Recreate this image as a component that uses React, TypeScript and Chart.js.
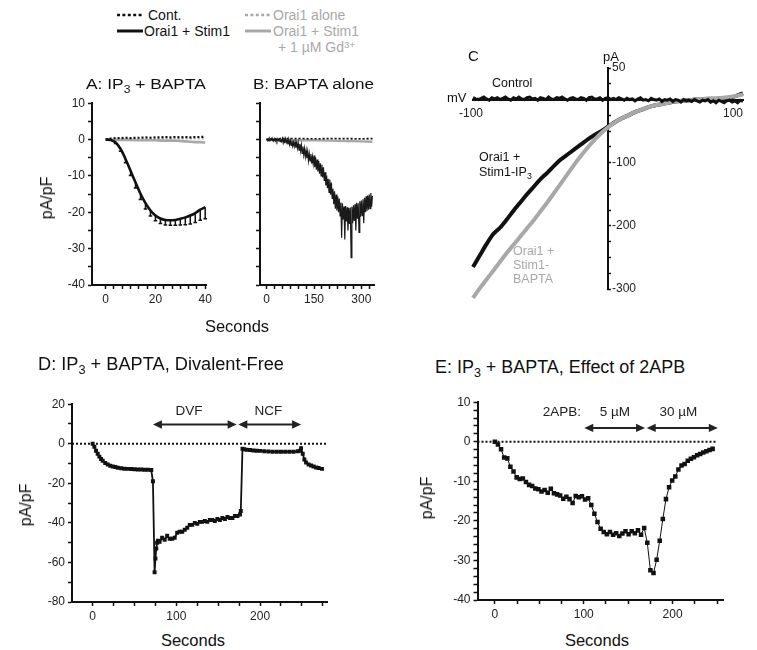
import React, { useEffect, useRef } from 'react';
import { Chart, registerables } from 'chart.js';

Chart.register(...registerables);

const FONT = '"Liberation Sans", Arial, Helvetica, sans-serif';
const BLACK = '#111111';
const GRAY = '#a8a8a8';
const TICK_COLOR = '#222222';

// ---------- Panel A: IP3 + BAPTA (pA/pF vs seconds)
const A_TIME = [0, 2, 4, 6, 8, 10, 12, 14, 16, 18, 20, 22, 24, 26, 28, 30, 32, 34, 36, 38, 40];
const A_STIM = [0, -0.1, -0.8, -2.6, -5.4, -8.6, -11.8, -14.9, -17.5, -19.5, -20.9, -21.7, -22.1, -22.2, -22.1, -21.8, -21.4, -20.9, -20.2, -19.3, -18.6];
const A_SEM = [0, 0, 0.3, 0.6, 1, 1.3, 1.5, 1.6, 1.6, 1.5, 1.4, 1.4, 1.4, 1.4, 1.5, 1.7, 2.0, 2.3, 2.6, 2.9, 3.2];
const A_CONT = [0, 0.3, 0.4, 0.4, 0.5, 0.4, 0.5, 0.5, 0.6, 0.5, 0.6, 0.6, 0.7, 0.6, 0.7, 0.6, 0.7, 0.6, 0.7, 0.7, 0.8];
const A_ALONE = [0, 0.1, 0.1, 0.2, 0.2, 0.2, 0.2, 0.2, 0.3, 0.3, 0.2, 0.3, 0.3, 0.3, 0.3, 0.3, 0.3, 0.3, 0.3, 0.3, 0.3];
const A_GD = [0, 0, -0.1, -0.1, -0.1, -0.1, -0.2, -0.2, -0.2, -0.2, -0.2, -0.3, -0.3, -0.3, -0.3, -0.4, -0.5, -0.6, -0.7, -0.7, -0.8];

// ---------- Panel B: BAPTA alone
const B_TIME = [0, 50, 100, 150, 200, 250, 300, 335];
const B_CONT = [0, 0.3, 0.3, 0.2, 0.3, 0.3, 0.2, 0.3];
const B_ALONE = [0, 0.1, 0.1, 0.1, 0.2, 0.1, 0.1, 0.1];
const B_GD = [0, -0.1, -0.2, -0.2, -0.3, -0.4, -0.5, -0.6];
const B_STIM_DT = 2.5; // seconds between samples
const B_STIM = [
  0.3, -0.3, 0.2, -0.4, 0.3, -0.1, 0.3, -0.3, 0.1, -0.4,
  0.2, -0.4, 0.1, -0.5, 0.2, -0.3, 0.1, -0.6, 0.0, -0.5,
  0.3, -0.9, 0.1, -1.0, 0.2, -0.8, -0.1, -1.3, 0.0, -1.4,
  -0.3, -1.6, -0.2, -1.8, -0.7, -1.9, -0.6, -2.2, -0.9, -2.4,
  -0.8, -2.9, -1.2, -3.1, -1.5, -3.8, -1.9, -4.2, -2.5, -4.7,
  -3.0, -5.1, -3.3, -5.8, -3.9, -5.9, -4.0, -6.6, -4.7, -6.7,
  -4.4, -7.6, -4.9, -8.3, -5.5, -8.8, -5.9, -9.4, -6.5, -10.0,
  -6.9, -10.4, -7.6, -11.4, -9.0, -12.6, -9.9, -13.4, -10.8, -14.5,
  -11.0, -15.2, -11.8, -16.2, -13.5, -17.8, -14.2, -19.0, -15.1, -19.5,
  -15.6, -20.0, -16.2, -21.0, -17.3, -27.0, -17.5, -22.0, -18.4, -27.5,
  -18.3, -22.5, -18.6, -25.0, -18.8, -23.2, -18.7, -32.5, -18.5, -23.0,
  -18.1, -22.4, -17.8, -25.0, -17.4, -21.8, -17.5, -25.5, -17.0, -21.2,
  -16.8, -20.9, -16.4, -23.0, -16.0, -20.0, -15.6, -19.7, -15.4, -19.3,
  -15.1, -19.0, -14.7, -18.5, -15.5,
];

// ---------- Panel C: I-V relations (pA vs mV)
const C_VOLT = [-100, -95, -90, -85, -80, -75, -70, -65, -60, -55, -50, -45, -40, -35, -30, -25, -20, -15, -10, -5, 0, 5, 10, 15, 20, 25, 30, 35, 40, 45, 50, 55, 60, 65, 70, 75, 80, 85, 90, 95, 100];
const C_IP3 = [-265, -247, -229, -213, -203, -190, -176, -163, -150, -138, -126, -116, -105, -95, -87, -79, -71, -63, -56, -50, -43, -36, -30, -25, -20, -16, -12, -9, -7, -5, -3, -2, -1, 0, 0, 1, 1, 2, 3, 6, 10];
const C_BAPTA = [-314, -299, -285, -271, -257, -243, -230, -217, -204, -191, -177, -163, -148, -133, -118, -103, -89, -76, -64, -53, -44, -36, -30, -25, -20, -16, -12, -9, -7, -5, -3, -2, -1, 0, 1, 2, 2, 3, 4, 6, 8];
const C_CTRL_START = -100;
const C_CTRL_DV = 2; // mV between samples
const C_CONTROL = [
  3, 1, 0, 2, 4, 1, -1, 3, 1, 3,
  0, 2, 4, 1, -1, 3, 1, 4, 1, 0,
  3, 4, 1, 2, -1, 3, 2, 0, 4, 1,
  0, 3, 2, 4, 1, -1, 2, 3, 1, 0,
  3, 2, -1, 3, 4, 1, 1, 3, -1, 2,
  3, 0, 2, 0, 3, 1, -1, 2, 0, 1,
  -2, 1, 3, -1, 0, -2, 2, 0, -1, 1,
  -3, 0, -1, 1, -3, 0, -1, -4, 0, -2,
  -1, -3, 0, -2, -4, -1, -2, 0, -4, -2,
  -5, -1, -3, -5, -2, -1, -4, -2, -5, -1,
  -3,
];
const C_Y_LABELS = [50, -100, -200, -300];
const C_X_LABELS = [-100, 100];

// ---------- Panel D: Divalent-free
const D_TIME = [
  0, 2, 4, 6, 8, 10, 12, 15, 18, 21,
  24, 27, 30, 34, 38, 42, 46, 50, 54, 58,
  62, 66, 70, 72, 74, 75, 76, 77, 78, 80,
  83, 86, 89, 92, 95, 98, 101, 104, 107, 110,
  113, 116, 119, 122, 125, 128, 131, 134, 137, 140,
  143, 146, 149, 152, 155, 158, 161, 164, 167, 170,
  173, 176, 177, 179, 181, 184, 188, 192, 196, 200,
  205, 210, 215, 220, 225, 230, 235, 240, 245, 248,
  249, 251, 253, 255, 258, 261, 264, 267, 270, 274,
];
const D_VALUE = [
  0, -1.5, -3.5, -5, -6.5, -7.7, -8.6, -9.7, -10.5, -11.1,
  -11.5, -11.8, -12.1, -12.4, -12.6, -12.7, -12.8, -12.9, -13, -13,
  -13.1, -13.1, -13.3, -19, -65, -58, -53, -50, -49, -49.5,
  -47.5, -48.5, -46.5, -48, -48, -47.5, -45, -44.5, -44.5, -43.5,
  -42.5, -41, -41, -40, -40.5, -39.5, -39.5, -39, -39.5, -38.5,
  -38.5, -39, -38, -38.5, -37.5, -38, -37, -37.5, -37.5, -36.5,
  -36.5, -35.8, -34, -2.5, -2.8, -3, -3.2, -3.4, -3.5, -3.6,
  -3.8, -3.9, -4, -4, -4, -4, -4, -4, -3.8, -3.5,
  -2.3, -5, -8, -9.5, -10.5, -11, -11.5, -12, -12.3, -12.7,
];
const D_ARROWS = [[72, 172], [174, 249]];
const D_ARROW_Y = 9.7;
const D_LABELS = ['DVF', 'NCF'];
const D_LABEL_T = [115, 210];
const D_LABEL_Y = 16.3;

// ---------- Panel E: effect of 2APB
const E_DT = 3.5; // seconds between samples
const E_VALUE = [
  0, -0.7, -1.9, -4.0, -4.2, -6.3, -7.5, -9.0, -9.4, -9.3,
  -10.2, -10.9, -11.2, -11.8, -12.0, -12.6, -12.2, -12.9, -11.9, -13.0,
  -13.3, -13.6, -14.4, -13.9, -14.5, -15.5, -13.7, -14.0, -13.8, -14.6,
  -14.3, -16.0, -18.2, -20.3, -22.0, -22.8, -23.4, -22.8, -23.5, -23.1,
  -23.8, -23.2, -22.6, -23.4, -22.6, -23.1, -22.4, -23.5, -21.8, -25.5,
  -32.5, -33.2, -29.8, -25.0, -19.5, -14.5, -11.5, -9.8, -8.8, -7.0,
  -6.0, -5.6, -4.8, -4.3, -3.9, -3.4, -3.1, -2.7, -2.4, -2.1,
  -1.8,
];
const E_ARROWS = [[100.6, 169], [170.8, 250.8]];
const E_ARROW_Y = 3.5;
const E_LABELS = ['2APB:', '5 µM', '30 µM'];
const E_LABEL_T = [75.5, 135, 206.5];
const E_LABEL_Y = 7.5;

// ---------- helpers
const pts = (xs: number[], ys: number[]) => xs.map((x, i) => ({ x, y: ys[i] }));
const evenPts = (start: number, step: number, ys: number[]) => ys.map((y, i) => ({ x: start + i * step, y }));
const tickList = (a: number, b: number, step: number) => {
  const out: number[] = [];
  for (let v = a; v <= b + 1e-9; v += step) out.push(Math.round(v * 1000) / 1000);
  return out;
};

function axis(o: { min: number; max: number; ticks: number[]; labels: number[] | null; size: number; horizontal: boolean }) {
  return {
    type: 'linear',
    position: o.horizontal ? 'bottom' : 'left',
    min: o.min,
    max: o.max,
    afterBuildTicks: (s: any) => {
      s.ticks = o.ticks.map((v) => ({ value: v }));
    },
    afterFit: (s: any) => {
      if (o.horizontal) s.height = o.size;
      else s.width = o.size;
    },
    grid: { drawOnChartArea: false, drawTicks: true, tickLength: 4, tickWidth: 1.5, tickColor: BLACK },
    border: { display: true, color: BLACK, width: 2 },
    ticks: {
      autoSkip: false,
      maxRotation: 0,
      padding: 3,
      color: TICK_COLOR,
      font: { family: FONT, size: 12 },
      callback: (v: number) => (o.labels && o.labels.some((l) => Math.abs(l - v) < 1e-6) ? String(v) : ''),
    },
  };
}

function baseOptions(padding: any, scales: any) {
  return {
    responsive: false,
    maintainAspectRatio: false,
    animation: false,
    events: [],
    layout: { padding },
    plugins: { legend: { display: false }, tooltip: { enabled: false } },
    elements: { point: { radius: 0 }, line: { tension: 0 } },
    scales,
  };
}

const aErrorBars = {
  id: 'aErrorBars',
  afterDatasetsDraw(chart: any) {
    const { ctx, scales } = chart;
    const x = scales.x;
    const y = scales.y;
    ctx.save();
    ctx.strokeStyle = BLACK;
    ctx.lineWidth = 1.5;
    A_TIME.forEach((t, i) => {
      const s = A_SEM[i];
      if (!s) return;
      const px = x.getPixelForValue(t);
      const y1 = y.getPixelForValue(A_STIM[i]);
      const y2 = y.getPixelForValue(A_STIM[i] - s);
      ctx.beginPath();
      ctx.moveTo(px, y1);
      ctx.lineTo(px, y2);
      ctx.moveTo(px - 1.8, y2);
      ctx.lineTo(px + 1.8, y2);
      ctx.stroke();
    });
    ctx.restore();
  },
};

function arrowPlugin(id: string, spans: number[][], arrowY: number, labels: string[], labelT: number[], labelY: number) {
  return {
    id,
    afterDatasetsDraw(chart: any) {
      const { ctx, scales } = chart;
      const x = scales.x;
      const y = scales.y;
      const py = y.getPixelForValue(arrowY);
      const H = 9;
      const W = 4.2;
      ctx.save();
      ctx.strokeStyle = '#222';
      ctx.fillStyle = '#222';
      ctx.lineWidth = 2;
      spans.forEach(([a, b]) => {
        const xa = x.getPixelForValue(a);
        const xb = x.getPixelForValue(b);
        ctx.beginPath();
        ctx.moveTo(xa + H - 1, py);
        ctx.lineTo(xb - H + 1, py);
        ctx.stroke();
        ctx.beginPath();
        ctx.moveTo(xa, py);
        ctx.lineTo(xa + H, py - W);
        ctx.lineTo(xa + H, py + W);
        ctx.closePath();
        ctx.fill();
        ctx.beginPath();
        ctx.moveTo(xb, py);
        ctx.lineTo(xb - H, py - W);
        ctx.lineTo(xb - H, py + W);
        ctx.closePath();
        ctx.fill();
      });
      ctx.font = `13.5px ${FONT}`;
      ctx.textAlign = 'center';
      ctx.textBaseline = 'middle';
      labels.forEach((txt, i) => {
        ctx.fillText(txt, x.getPixelForValue(labelT[i]), y.getPixelForValue(labelY));
      });
      ctx.restore();
    },
  };
}

const cAxisLabels = {
  id: 'cAxisLabels',
  afterDraw(chart: any) {
    const { ctx, scales } = chart;
    const x = scales.x;
    const y = scales.y;
    const x0 = x.getPixelForValue(0);
    const y0 = y.getPixelForValue(0);
    ctx.save();
    ctx.font = `12px ${FONT}`;
    ctx.fillStyle = TICK_COLOR;
    ctx.textBaseline = 'middle';
    ctx.textAlign = 'left';
    C_Y_LABELS.forEach((v) => ctx.fillText(String(v), x0 + 4, y.getPixelForValue(v)));
    C_X_LABELS.forEach((v) => {
      if (v < 0) {
        ctx.textAlign = 'center';
        ctx.fillText(String(v), x.getPixelForValue(v) - 2, y0 + 14);
      } else {
        ctx.textAlign = 'right';
        ctx.fillText(String(v), x.getPixelForValue(v), y0 + 14);
      }
    });
    ctx.restore();
  },
};

// ---------- chart configs
function configA() {
  return {
    type: 'line',
    data: {
      datasets: [
        { data: pts(A_TIME, A_CONT), borderColor: BLACK, borderWidth: 2.2, borderDash: [2, 2] },
        { data: pts(A_TIME, A_STIM), borderColor: BLACK, borderWidth: 2.6, tension: 0.4 },
        { data: pts(A_TIME, A_GD), borderColor: GRAY, borderWidth: 2.6 },
        { data: pts(A_TIME, A_ALONE), borderColor: GRAY, borderWidth: 2.2, borderDash: [2, 2] },
      ],
    },
    options: baseOptions({ top: 8, right: 8, left: 0, bottom: 0 }, {
      x: axis({ min: -5.5, max: 40.7, ticks: tickList(0, 40, 20 / 6), labels: [0, 20, 40], size: 38, horizontal: true }),
      y: axis({ min: -40, max: 10, ticks: tickList(-40, 10, 5), labels: [-40, -30, -20, -10, 0, 10], size: 52, horizontal: false }),
    }),
    plugins: [aErrorBars],
  };
}

function configB() {
  return {
    type: 'line',
    data: {
      datasets: [
        { data: pts(B_TIME, B_CONT), borderColor: BLACK, borderWidth: 1.6, borderDash: [2, 2] },
        { data: evenPts(0, B_STIM_DT, B_STIM), borderColor: '#1a1a1a', borderWidth: 1.2 },
        { data: pts(B_TIME, B_GD), borderColor: GRAY, borderWidth: 2.4 },
        { data: pts(B_TIME, B_ALONE), borderColor: GRAY, borderWidth: 1.8, borderDash: [2, 2] },
      ],
    },
    options: baseOptions({ top: 8, right: 11, left: 0, bottom: 0 }, {
      x: axis({ min: -21, max: 340, ticks: tickList(0, 325, 25), labels: [0, 150, 300], size: 38, horizontal: true }),
      y: axis({ min: -40, max: 10, ticks: tickList(-40, 10, 5), labels: null, size: 35, horizontal: false }),
    }),
  };
}

function configC() {
  return {
    type: 'line',
    data: {
      datasets: [
        { data: evenPts(C_CTRL_START, C_CTRL_DV, C_CONTROL), borderColor: BLACK, borderWidth: 3, clip: false },
        { data: pts(C_VOLT, C_BAPTA), borderColor: GRAY, borderWidth: 4, clip: false, tension: 0.3 },
        { data: pts(C_VOLT, C_IP3), borderColor: BLACK, borderWidth: 4, clip: false, tension: 0.3 },
      ],
    },
    options: baseOptions({ top: 28, right: 14, left: 33, bottom: 21 }, {
      x: {
        type: 'linear',
        position: { y: 0 },
        min: -100,
        max: 100,
        afterFit: (s: any) => {
          s.height = 0;
        },
        grid: { drawOnChartArea: false, drawTicks: false },
        border: { display: true, color: BLACK, width: 2 },
        ticks: { display: true, callback: () => '' },
      },
      y: {
        type: 'linear',
        position: { x: 0 },
        min: -300,
        max: 50,
        afterBuildTicks: (s: any) => {
          s.ticks = tickList(-300, 50, 25).map((v) => ({ value: v }));
        },
        afterFit: (s: any) => {
          s.width = 0;
        },
        grid: { drawOnChartArea: false, drawTicks: true, tickLength: -4, tickWidth: 1.5, tickColor: BLACK },
        border: { display: true, color: BLACK, width: 2 },
        ticks: { autoSkip: false, callback: () => '' },
      },
    }),
    plugins: [cAxisLabels],
  };
}

function configD() {
  return {
    type: 'line',
    data: {
      datasets: [
        { data: pts([-24.7, 280], [0, 0]), borderColor: BLACK, borderWidth: 2, borderDash: [2, 2] },
        {
          data: pts(D_TIME, D_VALUE),
          borderColor: BLACK,
          borderWidth: 1.8,
          pointStyle: 'rect',
          pointRadius: 2.8,
          pointBackgroundColor: BLACK,
          pointBorderColor: BLACK,
          pointBorderWidth: 0,
        },
      ],
    },
    options: baseOptions({ top: 8, right: 10, left: 0, bottom: 0 }, {
      x: axis({ min: -24.7, max: 280, ticks: tickList(0, 275, 25), labels: [0, 100, 200], size: 28, horizontal: true }),
      y: axis({ min: -80, max: 20, ticks: tickList(-80, 20, 10), labels: [-80, -60, -40, -20, 0, 20], size: 60, horizontal: false }),
    }),
    plugins: [arrowPlugin('dArrows', D_ARROWS, D_ARROW_Y, D_LABELS, D_LABEL_T, D_LABEL_Y)],
  };
}

function configE() {
  return {
    type: 'line',
    data: {
      datasets: [
        { data: pts([-19.5, 250], [0, 0]), borderColor: BLACK, borderWidth: 2, borderDash: [2, 2] },
        {
          data: evenPts(0, E_DT, E_VALUE),
          borderColor: BLACK,
          borderWidth: 1,
          pointStyle: 'rect',
          pointRadius: 3.2,
          pointBackgroundColor: BLACK,
          pointBorderColor: BLACK,
          pointBorderWidth: 0,
        },
      ],
    },
    options: baseOptions({ top: 8, right: 11.7, left: 0, bottom: 0 }, {
      x: axis({ min: -19.5, max: 257, ticks: tickList(0, 250, 25), labels: [0, 100, 200], size: 30, horizontal: true }),
      y: axis({ min: -40, max: 10, ticks: tickList(-40, 10, 2), labels: [-40, -30, -20, -10, 0, 10], size: 57.5, horizontal: false }),
    }),
    plugins: [arrowPlugin('eArrows', E_ARROWS, E_ARROW_Y, E_LABELS, E_LABEL_T, E_LABEL_Y)],
  };
}

function ChartBox({ left, top, width, height, make }: { left: number; top: number; width: number; height: number; make: () => any }) {
  const ref = useRef<HTMLCanvasElement | null>(null);
  useEffect(() => {
    if (!ref.current) return;
    const chart = new Chart(ref.current, make());
    return () => chart.destroy();
  }, []);
  return (
    <div style={{ position: 'absolute', left, top, width, height }}>
      <canvas ref={ref} width={width} height={height} style={{ display: 'block' }} />
    </div>
  );
}

function Txt({ x, y, size = 13, color = BLACK, anchor = 'left', rot = false, sx = 1, children }: any) {
  const tx = anchor === 'left' ? '0' : anchor === 'center' ? '-50%' : '-100%';
  return (
    <div
      style={{
        position: 'absolute',
        left: x,
        top: y,
        fontSize: size,
        lineHeight: 1,
        color,
        whiteSpace: 'nowrap',
        transformOrigin: rot ? 'center center' : 'left center',
        transform: rot ? 'translate(-50%,-50%) rotate(-90deg)' : `translate(${tx},-50%) scaleX(${sx})`,
      }}
    >
      {children}
    </div>
  );
}

const Sub = ({ children }: any) => (
  <span style={{ fontSize: '0.7em', position: 'relative', top: '0.35em' }}>{children}</span>
);
const Sup = ({ children }: any) => (
  <span style={{ fontSize: '0.7em', position: 'relative', top: '-0.45em' }}>{children}</span>
);

function LegendLine({ x, y, color, dotted }: { x: number; y: number; color: string; dotted: boolean }) {
  return (
    <svg style={{ position: 'absolute', left: x, top: y - 3 }} width={26} height={6}>
      <line x1={0} y1={3} x2={26} y2={3} stroke={color} strokeWidth={dotted ? 2.6 : 3} strokeDasharray={dotted ? '3 2.4' : undefined} />
    </svg>
  );
}

export default function App() {
  return (
    <div
      style={{
        position: 'absolute',
        left: 0,
        top: 0,
        width: 757,
        height: 650,
        background: '#fff',
        fontFamily: FONT,
        overflow: 'hidden',
      }}
    >
      <ChartBox left={40} top={93} width={175} height={230} make={configA} />
      <ChartBox left={225} top={93} width={160} height={230} make={configB} />
      <ChartBox left={440} top={40} width={317} height={270} make={configC} />
      <ChartBox left={12} top={394} width={325} height={236} make={configD} />
      <ChartBox left={420} top={392} width={315} height={238} make={configE} />

      {/* legend */}
      <LegendLine x={117} y={15} color={BLACK} dotted />
      <Txt x={148} y={15} size={14}>Cont.</Txt>
      <LegendLine x={117} y={31} color={BLACK} dotted={false} />
      <Txt x={144} y={31} size={14}>Orai1 + Stim1</Txt>
      <LegendLine x={245} y={15} color={GRAY} dotted />
      <Txt x={273} y={15} size={14} color={GRAY}>Orai1 alone</Txt>
      <LegendLine x={245} y={31} color={GRAY} dotted={false} />
      <Txt x={273} y={31} size={14} color={GRAY}>Orai1 + Stim1</Txt>
      <Txt x={278} y={47} size={14} color={GRAY}>
        + 1 µM Gd<Sup>3+</Sup>
      </Txt>

      {/* A / B */}
      <Txt x={86} y={84} size={15.5} sx={1.12}>
        A: IP<Sub>3</Sub> + BAPTA
      </Txt>
      <Txt x={253} y={84} size={15.5} sx={1.1}>B: BAPTA alone</Txt>
      <Txt x={47} y={198} size={16} rot>pA/pF</Txt>
      <Txt x={237} y={326} size={16.5} anchor="center">Seconds</Txt>

      {/* C */}
      <Txt x={468} y={55} size={15}>C</Txt>
      <Txt x={611} y={56} size={13} anchor="center">pA</Txt>
      <Txt x={447} y={97} size={13}>mV</Txt>
      <Txt x={492} y={83} size={12.5}>Control</Txt>
      <Txt x={479} y={157} size={12.5}>Orai1 +</Txt>
      <Txt x={479} y={172} size={12.5}>
        Stim1-IP<Sub>3</Sub>
      </Txt>
      <Txt x={513} y={251} size={12.5} color={GRAY}>Orai1 +</Txt>
      <Txt x={513} y={265} size={12.5} color={GRAY}>Stim1-</Txt>
      <Txt x={513} y={279} size={12.5} color={GRAY}>BAPTA</Txt>

      {/* D */}
      <Txt x={38} y={365} size={17.5} sx={1.04}>
        D: IP<Sub>3</Sub> + BAPTA, Divalent-Free
      </Txt>
      <Txt x={26} y={505} size={16} rot>pA/pF</Txt>
      <Txt x={193} y={640} size={16.5} anchor="center">Seconds</Txt>

      {/* E */}
      <Txt x={435} y={367.5} size={17.5} sx={1.025}>
        E: IP<Sub>3</Sub> + BAPTA, Effect of 2APB
      </Txt>
      <Txt x={427} y={498} size={16} rot>pA/pF</Txt>
      <Txt x={597} y={640} size={16.5} anchor="center">Seconds</Txt>
    </div>
  );
}
